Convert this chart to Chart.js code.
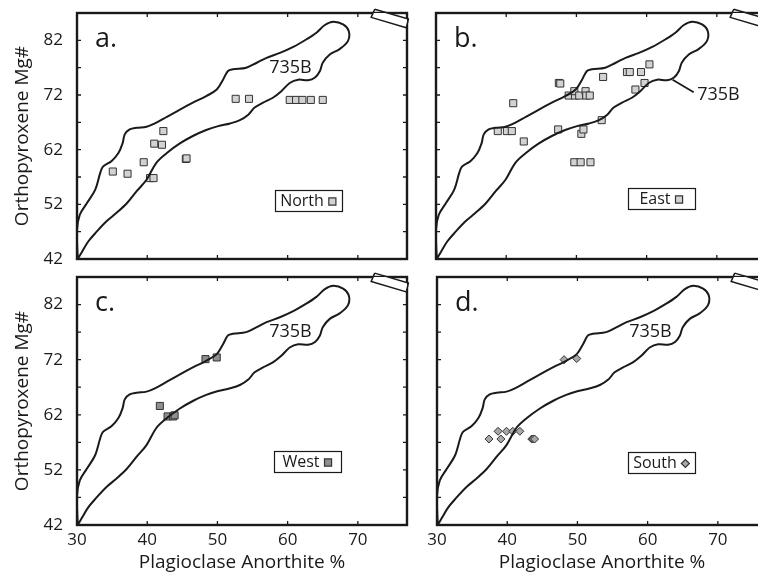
<!DOCTYPE html>
<html>
<head>
<meta charset="utf-8">
<script src="https://cdn.jsdelivr.net/npm/chart.js@4.4.1/dist/chart.umd.min.js"></script>
<style>
  body { margin: 0; background: #fff; width: 758px; height: 579px; overflow: hidden; position: relative; }
  .panel { position: absolute; }
</style>
</head>
<body>
<div class="panel" style="left:0;top:0"><canvas id="chartA" width="420" height="268"></canvas></div>
<div class="panel" style="left:420px;top:0"><canvas id="chartB" width="360" height="268"></canvas></div>
<div class="panel" style="left:0;top:268px"><canvas id="chartC" width="420" height="311"></canvas></div>
<div class="panel" style="left:420px;top:268px"><canvas id="chartD" width="360" height="311"></canvas></div>
<script>
const fontFamily = "'Open Sans', sans-serif"
const ink = '#1a1a1a'

// axis labels
const xLabelValues = [30, 40, 50, 60, 70]
const yLabelValues = [42, 52, 62, 72, 82]

// 735B field outline, closed loop (up the upper edge, back down the lower edge)
const envelopeX = [30.1, 30.0, 30.4, 31.4, 32.6, 33.3, 33.7, 34.9, 35.9, 36.5, 36.8, 37.5, 38.5, 39.9, 41.1, 42.8,
  44.6, 46.5, 48.4, 49.9, 50.8, 51.5, 52.2, 54.1, 55.6, 57.0, 58.9, 60.8, 62.7, 64.1, 65.3, 66.5, 67.9, 68.7,
  68.6, 67.4, 66.0, 65.0, 64.6, 63.9, 62.9, 61.5, 60.3, 59.1, 57.9, 56.5, 55.3, 54.4, 53.2, 51.8, 50.1, 48.4,
  46.5, 44.6, 42.8, 41.3, 39.9, 38.5, 37.1, 35.6, 34.2, 32.8, 31.6, 30.7, 30.1]
const envelopeY = [42.0, 47.3, 50.1, 52.2, 54.7, 57.7, 58.9, 59.9, 61.4, 63.2, 64.8, 65.7, 66.0, 66.2, 66.8, 68.0,
  69.3, 70.6, 71.8, 73.0, 74.8, 76.4, 76.7, 77.0, 77.9, 78.8, 79.7, 80.8, 82.2, 83.4, 84.8, 85.4, 84.9, 83.7,
  81.9, 80.4, 79.4, 77.9, 76.4, 75.2, 74.7, 74.8, 74.2, 72.7, 71.5, 70.6, 69.7, 68.4, 67.4, 66.8, 66.3, 65.6,
  64.5, 63.1, 61.4, 59.6, 56.5, 54.4, 52.2, 50.4, 48.9, 47.0, 45.2, 43.3, 42.0]

// slanted box on the top right corner
const cornerBoxX = [72.4, 77.2, 76.9, 71.9, 72.4]
const cornerBoxY = [87.7, 85.9, 84.3, 86.2, 87.7]

// North
const northX = [35.1, 37.2, 39.5, 40.4, 40.9, 41.0, 42.1, 42.3, 45.5, 45.6, 52.6, 54.5, 60.3, 61.2, 62.1, 63.3, 65.0]
const northY = [58.0, 57.6, 59.7, 56.8, 56.8, 63.1, 62.9, 65.4, 60.3, 60.4, 71.3, 71.3, 71.1, 71.1, 71.1, 71.1, 71.1]

// East
const eastX = [38.8, 40.1, 40.8, 41.0, 42.5, 47.5, 47.7, 47.4, 48.9, 49.8, 49.7, 50.4, 51.3, 51.4, 51.9, 50.7, 51.0,
  49.7, 50.6, 52.0, 53.8, 53.6, 57.2, 57.6, 59.2, 60.4, 59.7, 58.4]
const eastY = [65.4, 65.4, 65.4, 70.5, 63.5, 74.2, 74.1, 65.7, 71.9, 71.9, 72.7, 71.9, 72.7, 71.9, 71.9, 64.9, 65.7,
  59.7, 59.7, 59.7, 75.3, 67.4, 76.2, 76.2, 76.2, 77.6, 74.2, 73.0]

// West
const westX = [41.8, 42.9, 43.7, 43.9, 48.3, 49.9]
const westY = [63.6, 61.7, 61.7, 61.9, 72.1, 72.4]

// South
const southX = [37.4, 38.7, 39.1, 39.9, 40.8, 41.8, 43.5, 43.7, 43.9, 48.1, 49.9]
const southY = [57.6, 59.0, 57.6, 59.0, 59.0, 59.0, 57.6, 57.6, 57.6, 72.0, 72.2]

function toPoints(xs, ys) {
  return xs.map((x, i) => ({ x: x, y: ys[i] }))
}

// frame + inward tick marks on all four sides
const framePlugin = {
  id: 'frame',
  beforeDatasetsDraw(chart) {
    const { ctx, chartArea: a, scales: { x, y } } = chart
    ctx.save()
    ctx.strokeStyle = ink
    ctx.lineWidth = 1.3
    ctx.beginPath()
    x.ticks.forEach(t => {
      if (t.value % 10 !== 0 || t.value === 30) return
      const px = x.getPixelForValue(t.value)
      ctx.moveTo(px, a.bottom); ctx.lineTo(px, a.bottom - 4)
      ctx.moveTo(px, a.top); ctx.lineTo(px, a.top + 4)
    })
    y.ticks.forEach(t => {
      if (t.value === 42 || t.value === 87) return
      const py = y.getPixelForValue(t.value)
      ctx.moveTo(a.left, py); ctx.lineTo(a.left + 4, py)
      ctx.moveTo(a.right, py); ctx.lineTo(a.right - 4, py)
    })
    ctx.stroke()
    ctx.lineWidth = 2.4
    ctx.strokeRect(a.left, a.top, a.right - a.left, a.bottom - a.top)
    ctx.restore()
  }
}

const annotatePlugin = {
  id: 'annotate',
  afterDatasetsDraw(chart, args, opts) {
    const { ctx, chartArea: a, scales: { x, y } } = chart
    ctx.save()
    ctx.fillStyle = ink
    ctx.strokeStyle = ink

    ctx.font = `27px ${fontFamily}`
    ctx.textAlign = 'left'
    ctx.textBaseline = 'alphabetic'
    ctx.fillText(opts.letter, a.left + 18, a.top + 34)

    ctx.font = `18px ${fontFamily}`
    ctx.textBaseline = 'middle'
    if (opts.leader) {
      ctx.lineWidth = 1.8
      ctx.beginPath()
      ctx.moveTo(x.getPixelForValue(63.7), y.getPixelForValue(74.8))
      ctx.lineTo(x.getPixelForValue(66.7), y.getPixelForValue(72.5))
      ctx.stroke()
      ctx.fillText('735B', x.getPixelForValue(67.2), y.getPixelForValue(72.1))
    } else {
      ctx.textAlign = 'center'
      ctx.fillText('735B', x.getPixelForValue(60.4), y.getPixelForValue(77.0))
    }

    // legend box
    const bx = a.left + opts.boxLeft, by = a.top + opts.boxTop, bw = 67, bh = 21
    ctx.fillStyle = '#fff'
    ctx.fillRect(bx, by, bw, bh)
    ctx.lineWidth = 1.2
    ctx.strokeRect(bx + 0.5, by + 0.5, bw, bh)
    ctx.font = `16px ${fontFamily}`
    ctx.textAlign = 'left'
    const tw = ctx.measureText(opts.name).width
    const content = tw + 4 + 9
    const tx = bx + (bw - content) / 2
    ctx.fillStyle = ink
    ctx.fillText(opts.name, tx, by + bh / 2 + 1)
    ctx.fillStyle = opts.fill
    ctx.strokeStyle = '#333'
    Chart.helpers.drawPoint(ctx, { pointStyle: opts.marker, radius: opts.marker === 'rect' ? 5 : 4, borderWidth: 1, rotation: 0 },
      tx + tw + 4 + 4.5, by + bh / 2 + 1)
    ctx.restore()
  }
}

function makePanel(id, cfg) {
  const el = document.getElementById(id)
  return new Chart(el, {
    type: 'scatter',
    data: {
      datasets: [
        {
          data: toPoints(envelopeX, envelopeY),
          showLine: true, borderColor: ink, borderWidth: 2, pointRadius: 0, tension: 0.35, fill: false
        },
        {
          data: toPoints(cornerBoxX, cornerBoxY),
          showLine: true, borderColor: ink, borderWidth: 1.5, backgroundColor: '#fff', fill: 'shape',
          pointRadius: 0, tension: 0, clip: false
        },
        {
          data: toPoints(cfg.xs, cfg.ys),
          pointStyle: cfg.marker, pointRadius: cfg.marker === 'rect' ? 5 : 4,
          backgroundColor: cfg.fill, borderColor: '#333', borderWidth: 1
        }
      ]
    },
    plugins: [framePlugin, annotatePlugin],
    options: {
      responsive: false,
      devicePixelRatio: 1,
      animation: false,
      events: [],
      elements: { line: { capBezierPoints: false } },
      layout: { padding: { top: cfg.padTop, right: cfg.padRight, left: 0, bottom: 0 } },
      plugins: {
        legend: { display: false },
        tooltip: { enabled: false },
        annotate: { letter: cfg.letter, name: cfg.name, marker: cfg.marker, fill: cfg.fill, leader: cfg.leader,
          boxLeft: cfg.boxLeft, boxTop: cfg.boxTop }
      },
      scales: {
        x: {
          type: 'linear', min: 30, max: 77,
          grid: { display: false, drawTicks: false },
          border: { display: false },
          ticks: {
            display: cfg.xLabels, stepSize: 10, autoSkip: false, maxRotation: 0, padding: 5, color: ink,
            font: { family: fontFamily, size: 17 },
            callback: v => xLabelValues.includes(v) ? v : ''
          },
          title: {
            display: cfg.xLabels, text: 'Plagioclase Anorthite %', color: ink,
            font: { family: fontFamily, size: 19 }, padding: { top: 0, bottom: 5 }
          },
          afterFit: s => {
            s.height = cfg.xHeight
            s.paddingLeft = 0
            s.paddingRight = 0
          }
        },
        y: {
          type: 'linear', min: 42, max: 87,
          grid: { display: false, drawTicks: false },
          border: { display: false },
          ticks: {
            display: cfg.yLabels, stepSize: 5, autoSkip: false, padding: 14, color: ink,
            font: { family: fontFamily, size: 17 },
            callback: v => yLabelValues.includes(v) ? v : ''
          },
          title: {
            display: cfg.yLabels, text: 'Orthopyroxene Mg#', color: ink,
            font: { family: fontFamily, size: 19 }, padding: { top: 11, bottom: 0 }
          },
          afterFit: s => {
            s.width = cfg.yWidth
            s.paddingTop = 0
            s.paddingBottom = 0
          }
        }
      }
    }
  })
}

makePanel('chartA', { letter: 'a.', name: 'North', xs: northX, ys: northY, marker: 'rect', fill: '#d2d2d2',
  xLabels: false, yLabels: true, yWidth: 77, xHeight: 9, padTop: 13, padRight: 13, boxLeft: 198, boxTop: 177 })
makePanel('chartB', { letter: 'b.', name: 'East', xs: eastX, ys: eastY, marker: 'rect', fill: '#d2d2d2', leader: true,
  xLabels: false, yLabels: false, yWidth: 16, xHeight: 9, padTop: 13, padRight: 14, boxLeft: 192, boxTop: 175 })
makePanel('chartC', { letter: 'c.', name: 'West', xs: westX, ys: westY, marker: 'rect', fill: '#8f8f8f',
  xLabels: true, yLabels: true, yWidth: 77, xHeight: 54, padTop: 9, padRight: 13, boxLeft: 197, boxTop: 174 })
makePanel('chartD', { letter: 'd.', name: 'South', xs: southX, ys: southY, marker: 'rectRot', fill: '#a8a8a8',
  xLabels: true, yLabels: false, yWidth: 17, xHeight: 54, padTop: 9, padRight: 13, boxLeft: 191, boxTop: 175 })
</script>
</body>
</html>
